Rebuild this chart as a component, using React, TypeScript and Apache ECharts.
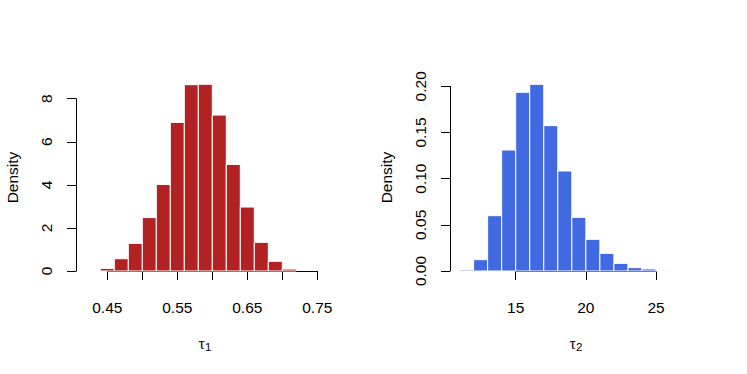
import React, { useEffect, useRef } from "react";
import * as echarts from "echarts";

// Histogram of tau1 (bin edges and densities)
const tau1Edges = [0.44, 0.46, 0.48, 0.5, 0.52, 0.54, 0.56, 0.58, 0.6, 0.62, 0.64, 0.66, 0.68, 0.7, 0.72];
const tau1Density = [0.12, 0.57, 1.28, 2.48, 4.02, 6.9, 8.65, 8.67, 7.24, 4.95, 2.97, 1.33, 0.45, 0.09];
const tau1XTicks = [0.45, 0.75, 0.05];
const tau1YTicks = [0, 8, 2];

// Histogram of tau2
const tau2Edges = [11, 12, 13, 14, 15, 16, 17, 18, 19, 20, 21, 22, 23, 24, 25, 26];
const tau2Density = [0.0011, 0.0123, 0.0599, 0.131, 0.1935, 0.2021, 0.1574, 0.1083, 0.0581, 0.0343, 0.0191, 0.0083, 0.0036, 0.0022, 0.0007];
const tau2XTicks = [15, 25, 5];
const tau2YTicks = [0, 0.2, 0.05];

const FONT = "Liberation Sans, Arial, Helvetica, sans-serif";
const FS = 15.5;

function binData(edges: number[], dens: number[]) {
  return dens.map((d, i) => [edges[i], edges[i + 1], d]);
}

function makeRender(color: string) {
  return (params: any, api: any) => {
    const lo = api.value(0);
    const hi = api.value(1);
    const d = api.value(2);
    const p0 = api.coord([lo, d]);
    const p1 = api.coord([hi, 0]);
    return {
      type: "rect",
      shape: { x: p0[0], y: p0[1], width: p1[0] - p0[0], height: p1[1] - p0[1] },
      style: { fill: color, stroke: "#ffffff", lineWidth: 1 },
    };
  };
}

const axisCommon = {
  axisLine: { show: true, lineStyle: { color: "#000", width: 1 } },
  axisTick: { show: true, length: 9, lineStyle: { color: "#000", width: 1 } },
  splitLine: { show: false },
};

export default function App() {
  const ref = useRef<HTMLDivElement>(null);
  useEffect(() => {
    if (!ref.current) return;
    const chart = echarts.init(ref.current, null, { renderer: "svg" });
    const option: any = {
      animation: false,
      backgroundColor: "#ffffff",
      grid: [
        { left: 107.3, top: 98.7, width: 210, height: 172.3 },
        { left: 515.7, top: 86.3, width: 140.3, height: 184.7 },
      ],
      xAxis: [
        {
          type: "value", gridIndex: 0, min: tau1XTicks[0], max: tau1XTicks[1], interval: tau1XTicks[2],
          offset: 7.3, ...axisCommon,
          axisLabel: {
            margin: 21, fontSize: FS, fontFamily: FONT, color: "#000",
            formatter: (v: number) => (Math.round(v * 100) % 10 === 5 ? v.toFixed(2) : ""),
          },
        },
        {
          type: "value", gridIndex: 1, min: tau2XTicks[0], max: tau2XTicks[1], interval: tau2XTicks[2],
          offset: 7.3, ...axisCommon,
          axisLabel: { margin: 21, fontSize: FS, fontFamily: FONT, color: "#000", formatter: (v: number) => String(Math.round(v)) },
        },
      ],
      yAxis: [
        {
          type: "value", gridIndex: 0, min: tau1YTicks[0], max: tau1YTicks[1], interval: tau1YTicks[2],
          offset: 31.3, ...axisCommon,
          axisLabel: { rotate: 90, margin: 22, fontSize: FS, fontFamily: FONT, color: "#000", formatter: (v: number) => String(Math.round(v)) },
        },
        {
          type: "value", gridIndex: 1, min: tau2YTicks[0], max: tau2YTicks[1], interval: tau2YTicks[2],
          offset: 65.7, ...axisCommon,
          axisLabel: { rotate: 90, margin: 22, fontSize: FS, fontFamily: FONT, color: "#000", formatter: (v: number) => v.toFixed(2) },
        },
      ],
      series: [
        {
          type: "custom", xAxisIndex: 0, yAxisIndex: 0, clip: false,
          renderItem: makeRender("#B22222"), data: binData(tau1Edges, tau1Density),
        },
        {
          type: "custom", xAxisIndex: 1, yAxisIndex: 1, clip: false,
          renderItem: makeRender("#4169E1"), data: binData(tau2Edges, tau2Density),
        },
      ],
      graphic: [
        {
          type: "text", x: 12, y: 177.5, rotation: Math.PI / 2,
          style: { text: "Density", fontSize: FS, fontFamily: FONT, fill: "#000", align: "center", verticalAlign: "middle" },
        },
        {
          type: "text", x: 386.5, y: 177.5, rotation: Math.PI / 2,
          style: { text: "Density", fontSize: FS, fontFamily: FONT, fill: "#000", align: "center", verticalAlign: "middle" },
        },
        {
          type: "text", x: 205, y: 343,
          style: {
            text: "{t|τ}{s|1}", align: "center", verticalAlign: "middle", fill: "#000",
            rich: {
              t: { fontSize: 16, fontFamily: "Liberation Serif, DejaVu Serif, serif", fill: "#000" },
              s: { fontSize: 11.5, fontFamily: FONT, fill: "#000", padding: [8, 0, 0, 0] },
            },
          },
        },
        {
          type: "text", x: 576, y: 343,
          style: {
            text: "{t|τ}{s|2}", align: "center", verticalAlign: "middle", fill: "#000",
            rich: {
              t: { fontSize: 16, fontFamily: "Liberation Serif, DejaVu Serif, serif", fill: "#000" },
              s: { fontSize: 11.5, fontFamily: FONT, fill: "#000", padding: [8, 0, 0, 0] },
            },
          },
        },
      ],
    };
    chart.setOption(option);
    return () => chart.dispose();
  }, []);
  return <div ref={ref} style={{ position: "fixed", left: 0, top: 0, width: 747, height: 374 }} />;
}
